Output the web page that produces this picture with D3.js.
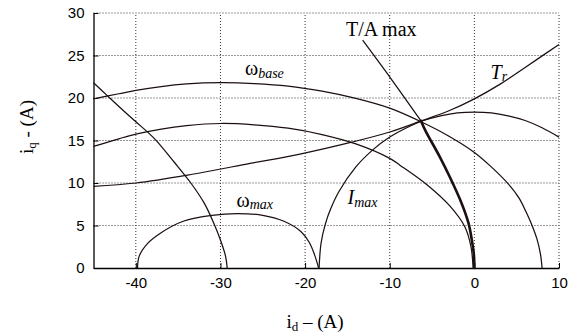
<!DOCTYPE html>
<html><head><meta charset="utf-8">
<script src="https://cdn.jsdelivr.net/npm/d3@7"></script>
<style>html,body{margin:0;padding:0;background:#fff;}svg{display:block;}</style>
</head><body>
<svg id="chart" width="577" height="335"></svg>
<script>
// ---- data ----
const xTicks = [-40, -30, -20, -10, 0, 10];
const yTicks = [0, 5, 10, 15, 20, 25, 30];
const xDomain = [-45, 10];
const yDomain = [0, 30];

// omega_base voltage-limit ellipse
const omegaBase = [[-45,19.9],[-42,20.5],[-40,20.9],[-37,21.35],[-34,21.65],[-30,21.8],[-26,21.7],[-22,21.4],[-18,20.8],[-14,19.95],[-10,18.8],[-6.3,17.2],[-3,15.5],[0,13.6],[2,11.9],[4,9.9],[5.3,8.2],[6.2,6.4],[6.9,4.8],[7.4,3.4],[7.8,1.7],[8.0,0]];
// intermediate-speed ellipse
const omegaMid = [[-45,14.3],[-42,15.2],[-40,15.75],[-37,16.35],[-34,16.75],[-30,17.0],[-26,16.85],[-22,16.45],[-18,15.7],[-14,14.6],[-10,12.9],[-8.8,12.1],[-5.6,9.8],[-2.9,7.3],[-1.1,4.8],[-0.4,2.5],[-0.15,0]];
// omega_max ellipse
const omegaMax = [[-39.8,0],[-39.6,1.4],[-38.6,2.9],[-37.1,4.1],[-34.4,5.5],[-31,6.2],[-28,6.4],[-25,6.2],[-22.5,5.5],[-20.5,4.3],[-19.5,3.0],[-18.9,1.6],[-18.4,0]];
// current-limit circle
const iMax = [[-18.35,0],[-18.1,3],[-17.6,5.2],[-17,6.9],[-16,9.0],[-14,11.9],[-12,13.9],[-10,15.4],[-8,16.5],[-6,17.35],[-4,17.9],[-2,18.25],[0,18.35],[2,18.25],[4,17.9],[6,17.35],[8,16.5],[10,15.4]];
// T/A max (MTPA) trajectory
const mtpaUpper = [[-13.2,26.8],[-9.8,22.2],[-6.3,17.3]];
const mtpaLower = [[-6.3,17.3],[-5.8,16.2],[-4.1,13.1],[-2.9,10.7],[-1.5,7.6],[-0.7,5.3],[-0.3,3.3],[-0.05,1.5],[0,0]];
// rated torque curve T_r
const torqueRated = [[-45,9.6],[-40,10.0],[-33.5,11.0],[-26.5,12.3],[-20.6,13.4],[-14.5,14.8],[-10,16.0],[-6.3,17.3],[-3,18.5],[0,19.9],[3,21.6],[6,23.6],[10,26.3]];
// left descending curve
const leftCurve = [[-45,21.8],[-43.5,20.4],[-42,19.0],[-40,17.2],[-38.5,15.9],[-37.5,14.9],[-35.5,12.5],[-33.5,10.0],[-31.9,7.6],[-30.8,5.3],[-30.0,3.3],[-29.4,1.4],[-29.2,0]];

// ---- drawing ----
const svg = d3.select("#chart");
const x = d3.scaleLinear().domain(xDomain).range([93.5, 559]);
const y = d3.scaleLinear().domain(yDomain).range([268, 13]);
const ink = "#1c0f0f";

// grid (dotted), including top & right borders
const grid = svg.append("g");
grid.selectAll("line.gx").data(xTicks).enter().append("line")
  .attr("x1", d => x(d)).attr("x2", d => x(d)).attr("y1", y(0)).attr("y2", y(30))
  .attr("stroke", "#333").attr("stroke-width", 1).attr("stroke-dasharray", "1,2");
grid.selectAll("line.gy").data(yTicks.filter(d => d > 0)).enter().append("line")
  .attr("x1", x(-45)).attr("x2", x(10)).attr("y1", d => y(d)).attr("y2", d => y(d))
  .attr("stroke", "#333").attr("stroke-width", 1).attr("stroke-dasharray", "1,2");

// axes
const xAxis = d3.axisBottom(x).tickValues(xTicks).tickSizeInner(-5).tickSizeOuter(0).tickPadding(9);
const yAxis = d3.axisLeft(y).tickValues(yTicks).tickSizeInner(-5).tickSizeOuter(0).tickPadding(9);
const gx = svg.append("g").attr("transform", `translate(0,${y(0)})`).call(xAxis);
const gy = svg.append("g").attr("transform", `translate(${x(-45)},0)`).call(yAxis);
[gx, gy].forEach(g => {
  g.select(".domain").attr("stroke", "#000").attr("stroke-width", 1.3);
  g.selectAll(".tick line").attr("stroke", "#000").attr("stroke-width", 1);
  g.selectAll(".tick text").attr("font-family", "'Liberation Sans', Arial, sans-serif")
    .attr("font-size", 15).attr("fill", "#000");
});
gx.selectAll(".tick text").text(d => d);

// curves
const line = d3.line().x(d => x(d[0])).y(d => y(d[1])).curve(d3.curveCatmullRom.alpha(0.5));
const curves = [omegaBase, omegaMid, omegaMax, iMax, mtpaUpper, torqueRated, leftCurve];
svg.append("g").selectAll("path").data(curves).enter().append("path")
  .attr("d", line).attr("fill", "none").attr("stroke", ink).attr("stroke-width", 1.25);
svg.append("path").datum(mtpaLower).attr("d", line).attr("fill", "none")
  .attr("stroke", ink).attr("stroke-width", 2.6).attr("stroke-linecap", "round");

// annotations
const serif = "'Liberation Serif', 'Times New Roman', serif";
function label(px, py, main, sub, italicMain) {
  const t = svg.append("text").attr("x", px).attr("y", py)
    .attr("font-family", serif).attr("font-size", 20).attr("fill", "#000");
  t.append("tspan").text(main).attr("font-style", italicMain ? "italic" : "normal");
  if (sub) t.append("tspan").text(sub).attr("font-style", "italic").attr("font-size", 14).attr("dy", 2.5);
}
label(346, 36, "T/A max", null, false);
label(245, 75, "ω", "base", false);
label(236.5, 206.5, "ω", "max", false);
label(490.5, 78.5, "T", "r", true);
label(347.5, 204, "I", "max", true);

// axis titles
const xt = svg.append("text").attr("x", 315).attr("y", 328).attr("text-anchor", "middle")
  .attr("font-family", serif).attr("font-size", 19).attr("fill", "#000");
xt.append("tspan").text("i");
xt.append("tspan").text("d").attr("font-size", 13).attr("dy", 3);
xt.append("tspan").text(" – (A)").attr("dy", -3);

const yt = svg.append("text").attr("transform", "translate(33,127) rotate(-90)").attr("text-anchor", "middle")
  .attr("font-family", serif).attr("font-size", 19).attr("fill", "#000");
yt.append("tspan").text("i");
yt.append("tspan").text("q").attr("font-size", 13).attr("dy", 3);
yt.append("tspan").text(" - (A)").attr("dy", -3);
</script>
</body></html>
